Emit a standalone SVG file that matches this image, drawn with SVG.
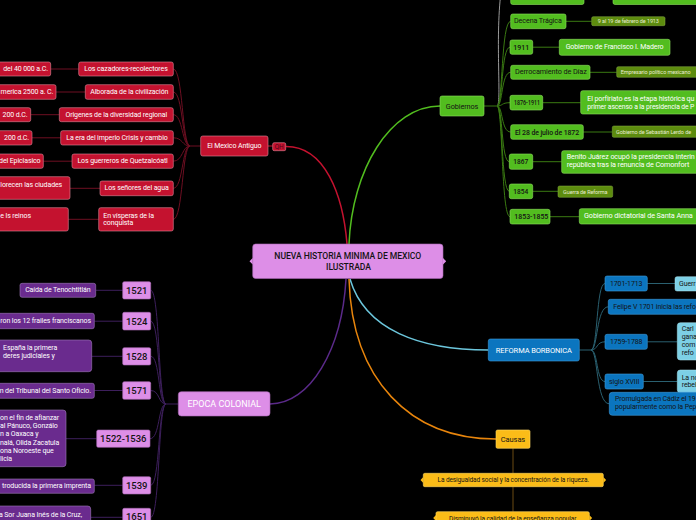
<svg xmlns="http://www.w3.org/2000/svg" width="696" height="520" viewBox="0 0 696 520">
<style>
text{font-family:Roboto,"Liberation Sans",sans-serif;dominant-baseline:central;font-size:7px;letter-spacing:-0.1px}
.w{fill:#fff}.k{fill:#141414}.m{text-anchor:middle}.e{text-anchor:end}
.s55{font-size:5.5px}.s65{font-size:6.5px}.y{font-size:9.5px;font-weight:500;letter-spacing:0}
.gy{font-size:7.6px;font-weight:500;letter-spacing:0}
.red{fill:#c4122f;stroke:#e3899a;stroke-width:.6}
.pk{fill:#dd8ee7;stroke:#a768b4;stroke-width:.6}
.pu{fill:#6a2b8e;stroke:#a07abb;stroke-width:.6}
.gr{fill:#52bd1f;stroke:#8fe060;stroke-width:.6}
.ol{fill:#5d8c0e;stroke:#89b046;stroke-width:.5}
.bl{fill:#0b75bf;stroke:#3f9bd8;stroke-width:.6}
.lb{fill:#7dd0e6;stroke:#aee6f3;stroke-width:.5}
.yl{fill:#fbbc18;stroke:#ffd865;stroke-width:.6}
.c path{fill:none}
.cr{stroke:#6e0f22;stroke-width:1}
.cp{stroke:#3d1f5c;stroke-width:1}
.cg{stroke:#3a7a12;stroke-width:1}
.cb{stroke:#2a6070;stroke-width:1}
.cy{stroke:#6b4a12;stroke-width:1}
</style>
<rect width="696" height="520" fill="#000"/>

<g id="connectors" class="c">
  <path d="M285.7,146.5 C325,146 343,195 347,244" stroke="#c4122f" stroke-width="1.5"/>
  <path d="M349,244 C352,170 390,106 440,106" stroke="#52bd1f" stroke-width="1.5"/>
  <path d="M346,279 C342,350 310,404 270,404" stroke="#5b2a8a" stroke-width="1.5"/>
  <path d="M350,279 C365,330 420,350 488.3,350" stroke="#6cc6dc" stroke-width="1.5"/>
  <path d="M349,279 C352,380 410,439 496,439" stroke="#e8850c" stroke-width="1.5"/>
  <path d="M268,146 H272.7" stroke="#c4122f" stroke-width="1"/>
  <path class="cr" d="M200.7,146 H190"/>
  <path class="cr" d="M190,146 C182,146 183,69 173.3,69"/>
  <path class="cr" d="M190,146 C182,146 183,92 173.3,92"/>
  <path class="cr" d="M190,146 C182,146 183,114.7 173.3,114.7"/>
  <path class="cr" d="M190,146 C182,146 183,137.8 173.3,137.8"/>
  <path class="cr" d="M190,146 C182,146 183,161.2 173.3,161.2"/>
  <path class="cr" d="M190,146 C182,146 183,188.3 173.3,188.3"/>
  <path class="cr" d="M190,146 C182,146 183,219.3 173.3,219.3"/>
  <path class="cr" d="M50.7,69 H78.7 M56,92 H85.3 M30.7,114.7 H59.3 M32,137.8 H60.7 M43.3,161.2 H72 M70,188.3 H100 M68.3,219.3 H98.7"/>
  <path class="cg" d="M484,106 H497"/>
  <path d="M497,106 C502,106 495,40 501,-8" stroke="#9a9a9a" stroke-width="1"/>
  <path class="cg" d="M497,106 C503,106 501,21.3 510.7,21.3"/>
  <path class="cg" d="M497,106 C503,106 501,47.2 510,47.2"/>
  <path class="cg" d="M497,106 C503,106 501,72.3 510.7,72.3"/>
  <path class="cg" d="M497,106 C503,106 501,102.7 510,102.7"/>
  <path class="cg" d="M497,106 C503,106 501,132 510.7,132"/>
  <path class="cg" d="M497,106 C503,106 501,161.7 509.3,161.7"/>
  <path class="cg" d="M497,106 C503,106 501,191.3 509.3,191.3"/>
  <path class="cg" d="M497,106 C503,106 501,216.7 510,216.7"/>
  <path class="cg" d="M566,21.3 H591.7 M532.7,47.2 H559.3 M590,72.3 H616.7 M542.7,102.7 H580.7 M583.3,132 H612.3 M532.7,161.7 H561.7 M532.7,191.3 H558 M550,216.7 H579.3"/>
  <path class="cp" d="M178.3,404 H166"/>
  <path class="cp" d="M166,404 C158,404 160,290.3 150.7,290.3"/>
  <path class="cp" d="M166,404 C158,404 160,321.2 150.7,321.2"/>
  <path class="cp" d="M166,404 C158,404 160,356.3 150.7,356.3"/>
  <path class="cp" d="M166,404 C158,404 160,390.5 150.7,390.5"/>
  <path class="cp" d="M166,404 C158,404 160,438.7 150,438.7"/>
  <path class="cp" d="M166,404 C158,404 160,485.3 150.7,485.3"/>
  <path class="cp" d="M166,404 C158,404 160,517.3 150.7,517.3"/>
  <path class="cp" d="M95.7,290.3 H122.7 M94.3,321.2 H122.7 M91.7,356.3 H122.7 M94.3,390.5 H122.7 M66,438.7 H96.7 M94.3,485.3 H122.7 M90.7,517.3 H122.7"/>
  <path class="cb" d="M579.3,350 H591"/>
  <path class="cb" d="M591,350 C598,350 596,283.5 605,283.5"/>
  <path class="cb" d="M591,350 C598,350 596,306.8 608.3,306.8"/>
  <path class="cb" d="M591,350 C598,350 596,341.8 605,341.8"/>
  <path class="cb" d="M591,350 C598,350 596,381.5 605,381.5"/>
  <path class="cb" d="M591,350 C598,350 596,403.8 609.3,403.8"/>
  <path class="cb" d="M647.3,283.5 H675 M647.3,341.8 H677.3 M643.3,381.5 H677.3"/>
  <path class="cy" d="M513,448.3 V473.3 M513,486.7 V511.7"/>
</g>

<g id="center">
  <rect class="pk" x="252.7" y="244" width="190.3" height="34.5" rx="3"/>
  <path d="M252.7,258 L249.5,261.3 L252.7,264.6 Z M443,258 L446.2,261.3 L443,264.6 Z" fill="#dd8ee7"/>
  <text class="k m" x="347.8" y="255.8" style="font-size:8.6px;font-weight:500;letter-spacing:-0.05px">NUEVA HISTORIA MINIMA DE MEXICO</text>
  <text class="k m" x="348.5" y="266.8" style="font-size:8.6px;font-weight:500;letter-spacing:-0.05px">ILUSTRADA</text>
</g>

<g id="mexico-antiguo">
  <rect class="red" x="200.7" y="136" width="67.3" height="20" rx="2"/>
  <text class="w m" x="234.3" y="146">El Mexico Antiguo</text>
  <rect class="red" x="272.7" y="142.7" width="13" height="8" rx="1.5"/>
  <text class="m" x="279.2" y="146.8" style="font-size:6.5px;fill:#4a0618">QH</text>
</g>
<g id="ma-children">
  <rect class="red" x="78.7" y="62" width="94.6" height="14" rx="2"/><text class="w m" x="126" y="69">Los cazadores-recolectores</text>
  <rect class="red" x="85.3" y="84.7" width="88" height="14.6" rx="2"/><text class="w m" x="129.3" y="92">Alborada de la civilización</text>
  <rect class="red" x="59.3" y="107.7" width="114" height="14" rx="2"/><text class="w m" x="116.3" y="114.7">Origenes de la diversidad regional</text>
  <rect class="red" x="60.7" y="130.7" width="112.6" height="14.3" rx="2"/><text class="w m" x="117" y="137.8">La era del imperio Crisis y cambio</text>
  <rect class="red" x="72" y="154" width="101.3" height="14.3" rx="2"/><text class="w m" x="122.6" y="161.2">Los guerreros de Quetzalcóatl</text>
  <rect class="red" x="100" y="181" width="73.3" height="14.7" rx="2"/><text class="w m" x="136.6" y="188.3">Los señores del agua</text>
  <rect class="red" x="98.7" y="207.7" width="74.6" height="23.3" rx="2"/>
  <text class="w" x="103.3" y="215.7">En vísperas de la</text><text class="w" x="103.3" y="223.3">conquista</text>
</g>
<g id="ma-grandchildren">
  <rect class="red" x="-20" y="62" width="70.7" height="14" rx="2"/><text class="w e" x="48" y="69">del 40 000 a.C.</text>
  <rect class="red" x="-20" y="84.7" width="76" height="14.6" rx="2"/><text class="w e" x="53.3" y="92">merica 2500 a. C.</text>
  <rect class="red" x="-20" y="107.7" width="50.7" height="14" rx="2"/><text class="w e" x="27.5" y="114.7">200 d.C.</text>
  <rect class="red" x="-20" y="130.7" width="52" height="14.3" rx="2"/><text class="w e" x="29" y="137.8">200 d.C.</text>
  <rect class="red" x="-20" y="154" width="63.3" height="14.3" rx="2"/><text class="w e" x="40.5" y="161.2">del Epiclasico</text>
  <rect class="red" x="-20" y="176.7" width="90" height="22.6" rx="2"/><text class="w" x="0.3" y="185">lorecen las ciudades</text>
  <rect class="red" x="-20" y="207.7" width="88.3" height="23.3" rx="2"/><text class="w" x="0.3" y="215.7">e ls reinos</text>
</g>

<g id="gobiernos">
  <rect class="gr" x="440" y="96" width="44" height="20" rx="2"/>
  <text class="k m" x="462" y="106" style="font-size:7.3px">Gobiernos</text>
</g>
<g id="gob-children">
  <rect class="gr" x="510.7" y="-16" width="73.3" height="20.5" rx="2"/>
  <rect class="gr" x="613" y="-16" width="100" height="20.5" rx="2"/>
  <rect class="gr" x="510.7" y="14" width="55.3" height="14.7" rx="2"/><text class="k" x="514" y="21.3" textLength="47.7" lengthAdjust="spacingAndGlyphs">Decena Trágica</text>
  <rect class="gr" x="510" y="40" width="22.7" height="14.3" rx="2"/><text class="k gy" x="513.3" y="47.2" textLength="16" lengthAdjust="spacingAndGlyphs">1911</text>
  <rect class="gr" x="510.7" y="65.3" width="79.3" height="14" rx="2"/><text class="k" x="515" y="72.3" textLength="71.7" lengthAdjust="spacingAndGlyphs">Derrocamiento de Díaz</text>
  <rect class="gr" x="510" y="95.3" width="32.7" height="14.7" rx="2"/><text class="k gy" x="514" y="102.7" textLength="26" lengthAdjust="spacingAndGlyphs">1876-1911</text>
  <rect class="gr" x="510.7" y="124.7" width="72.6" height="14.6" rx="2"/><text class="k" x="515" y="132" style="font-weight:500;font-size:7.3px" textLength="64" lengthAdjust="spacingAndGlyphs">El 28 de julio de 1872</text>
  <rect class="gr" x="509.3" y="154" width="23.4" height="15.3" rx="2"/><text class="k gy" x="513.3" y="161.7" textLength="15" lengthAdjust="spacingAndGlyphs">1867</text>
  <rect class="gr" x="509.3" y="184" width="23.4" height="14.7" rx="2"/><text class="k gy" x="513.3" y="191.3" textLength="15" lengthAdjust="spacingAndGlyphs">1854</text>
  <rect class="gr" x="510" y="209.3" width="40" height="14.7" rx="2"/><text class="k gy" x="514.3" y="216.7" textLength="34" lengthAdjust="spacingAndGlyphs">1853-1855</text>
</g>
<g id="gob-grandchildren">
  <rect class="ol" x="591.7" y="16.7" width="73.3" height="9" rx="1.5"/><text class="m s55" x="628.3" y="21.3" fill="#e6edd0">9 al 19 de febrero de 1913</text>
  <rect class="gr" x="559.3" y="39.3" width="110.7" height="16" rx="2"/><text class="w m" x="614.6" y="47.3">Gobierno de Francisco I. Madero</text>
  <rect class="ol" x="616.7" y="66.7" width="100" height="10.6" rx="1.5"/><text class="s55" x="620.7" y="72.1" fill="#e6edd0">Empresario político mexicano</text>
  <rect class="gr" x="580.7" y="90.7" width="130" height="23.3" rx="2"/>
  <text class="w" x="587.3" y="98.7" textLength="107" lengthAdjust="spacingAndGlyphs">El porfiriato es la etapa histórica qu</text>
  <text class="w" x="587.3" y="106.7" textLength="107" lengthAdjust="spacingAndGlyphs">primer ascenso a la presidencia de P</text>
  <rect class="ol" x="612.3" y="126" width="100" height="11.3" rx="1.5"/><text class="s55" x="616" y="131.7" fill="#e6edd0">Gobierno de Sebastián Lerdo de</text>
  <rect class="gr" x="561.7" y="150.7" width="150" height="22.6" rx="2"/>
  <text class="w" x="566.7" y="157.3" textLength="128" lengthAdjust="spacingAndGlyphs">Benito Juárez ocupó la presidencia interin</text>
  <text class="w" x="566.7" y="165.3" textLength="122.6" lengthAdjust="spacingAndGlyphs">república tras la renuncia de Comonfort</text>
  <rect class="ol" x="558" y="186" width="54.7" height="11.3" rx="1.5"/><text class="m s55" x="585.3" y="191.7" fill="#e6edd0">Guerra de Reforma</text>
  <rect class="gr" x="579.3" y="208.7" width="130" height="15.3" rx="2"/><text class="w" x="584" y="216.4" textLength="108.7" lengthAdjust="spacingAndGlyphs">Gobierno dictatorial de Santa Anna</text>
</g>

<g id="epoca-colonial">
  <rect class="pk" x="178.3" y="391.7" width="91.7" height="24.3" rx="3"/>
  <text class="w m" x="224.2" y="404" style="font-size:9px;letter-spacing:0">EPOCA COLONIAL</text>
</g>
<g id="ec-years">
  <rect class="pk" x="122.7" y="281.7" width="28" height="17.3" rx="1.5"/><text class="k m y" x="136.7" y="290.5">1521</text>
  <rect class="pk" x="122.7" y="312.3" width="28" height="17.7" rx="1.5"/><text class="k m y" x="136.7" y="321.3">1524</text>
  <rect class="pk" x="122.7" y="347.7" width="28" height="17.3" rx="1.5"/><text class="k m y" x="136.7" y="356.5">1528</text>
  <rect class="pk" x="122.7" y="381.7" width="28" height="17.6" rx="1.5"/><text class="k m y" x="136.7" y="390.7">1571</text>
  <rect class="pk" x="96.7" y="430" width="53.3" height="17.3" rx="1.5"/><text class="k m y" x="123.3" y="438.8">1522-1536</text>
  <rect class="pk" x="122.7" y="476.7" width="28" height="17.3" rx="1.5"/><text class="k m y" x="136.7" y="485.5">1539</text>
  <rect class="pk" x="122.7" y="508.3" width="28" height="18" rx="1.5"/><text class="k m y" x="136.7" y="516.5">1651</text>
</g>
<g id="ec-details">
  <rect class="pu" x="20" y="283.3" width="75.7" height="14" rx="2"/><text class="w m" x="57.8" y="290.3">Caída de Tenochtitlán</text>
  <rect class="pu" x="-20" y="313.3" width="114.3" height="15.4" rx="2"/><text class="w e" x="91" y="321">ron los 12 frailes franciscanos</text>
  <rect class="pu" x="-20" y="340" width="111.7" height="31.7" rx="3"/>
  <text class="w" x="3" y="348.3">España la primera</text><text class="w" x="3" y="355.8">deres judiciales y</text>
  <rect class="pu" x="-20" y="383.3" width="114.3" height="15" rx="2"/><text class="w e" x="91" y="390.8">n del Tribunal del Santo Oficio.</text>
  <rect class="pu" x="-20" y="410" width="86" height="56.7" rx="3"/>
  <text class="w" x="0" y="418.3">on el fin de afianzar</text>
  <text class="w" x="0" y="426.3">al Pánuco, Gonzálo</text>
  <text class="w" x="0" y="434.3">n a Oaxaca y</text>
  <text class="w" x="0" y="442.6">nalá, Olida Zacatula</text>
  <text class="w" x="0" y="450.6">ona Noroeste que</text>
  <text class="w" x="0" y="458.6">licia</text>
  <rect class="pu" x="-20" y="479" width="114.3" height="14.3" rx="2"/><text class="w e" x="91" y="486.2">troducida la primera imprenta</text>
  <rect class="pu" x="-20" y="506" width="110.7" height="20" rx="3"/><text class="w e" x="82" y="514.5">a Sor Juana Inés de la Cruz,</text>
</g>

<g id="reforma-borbonica">
  <rect class="bl" x="488.3" y="339" width="91" height="22" rx="2"/>
  <text class="w m" x="533.8" y="350" style="font-size:7.5px">REFORMA BORBONICA</text>
</g>
<g id="rb-children">
  <rect class="bl" x="605" y="276" width="42.3" height="15" rx="2"/><text class="k m" x="626.2" y="283.5" fill="#0a1a2e">1701-1713</text>
  <rect class="lb" x="675" y="276.7" width="40" height="14.3" rx="2"/><text class="k" x="679" y="283.8">Guerr</text>
  <rect class="bl" x="608.3" y="299.3" width="100" height="15" rx="2"/><text class="k" x="613.3" y="306.8">Felipe V 1701 inicia las refo</text>
  <rect class="bl" x="605" y="334.3" width="42.3" height="15" rx="2"/><text class="k m" x="626.2" y="341.8">1759-1788</text>
  <rect class="lb" x="677.3" y="322.7" width="40" height="37.3" rx="3"/>
  <text class="k" x="681.7" y="329">Carl</text><text class="k" x="681.7" y="336.5">gana</text><text class="k" x="681.7" y="344.5">com</text><text class="k" x="681.7" y="352.5">refo</text>
  <rect class="bl" x="605" y="374" width="38.3" height="15" rx="2"/><text class="k m" x="624.2" y="381.5">siglo XVIII</text>
  <rect class="lb" x="677.3" y="370" width="40" height="22.7" rx="3"/>
  <text class="k" x="681.7" y="377.5">La no</text><text class="k" x="681.7" y="385.3">rebeli</text>
  <rect class="bl" x="609.3" y="392.3" width="100" height="23" rx="3"/>
  <text class="k" x="615" y="399">Promulgada en Cádiz el 19</text><text class="k" x="615" y="407">popularmente como la Pep</text>
</g>

<g id="causas">
  <rect class="yl" x="496" y="430" width="34" height="18.3" rx="1.5"/>
  <text class="k m" x="513" y="439.2" style="font-size:7.5px">Causas</text>
</g>
<g id="causas-children">
  <rect class="yl" x="423.3" y="473.3" width="180" height="13.4" rx="1.5"/>
  <path d="M423.3,477 L420.5,480 L423.3,483 Z M603.3,477 L606.1,480 L603.3,483 Z" fill="#fbbc18"/>
  <text class="k m s65" x="513.3" y="480">La desigualdad social y la concentración de la riqueza.</text>
  <rect class="yl" x="436" y="511.7" width="153.3" height="14" rx="1.5"/>
  <path d="M436,515 L433.2,518 L436,521 Z M589.3,515 L592.1,518 L589.3,521 Z" fill="#fbbc18"/>
  <text class="k m s65" x="512.7" y="518.5">Disminuyó la calidad de la enseñanza popular</text>
</g>
</svg>
